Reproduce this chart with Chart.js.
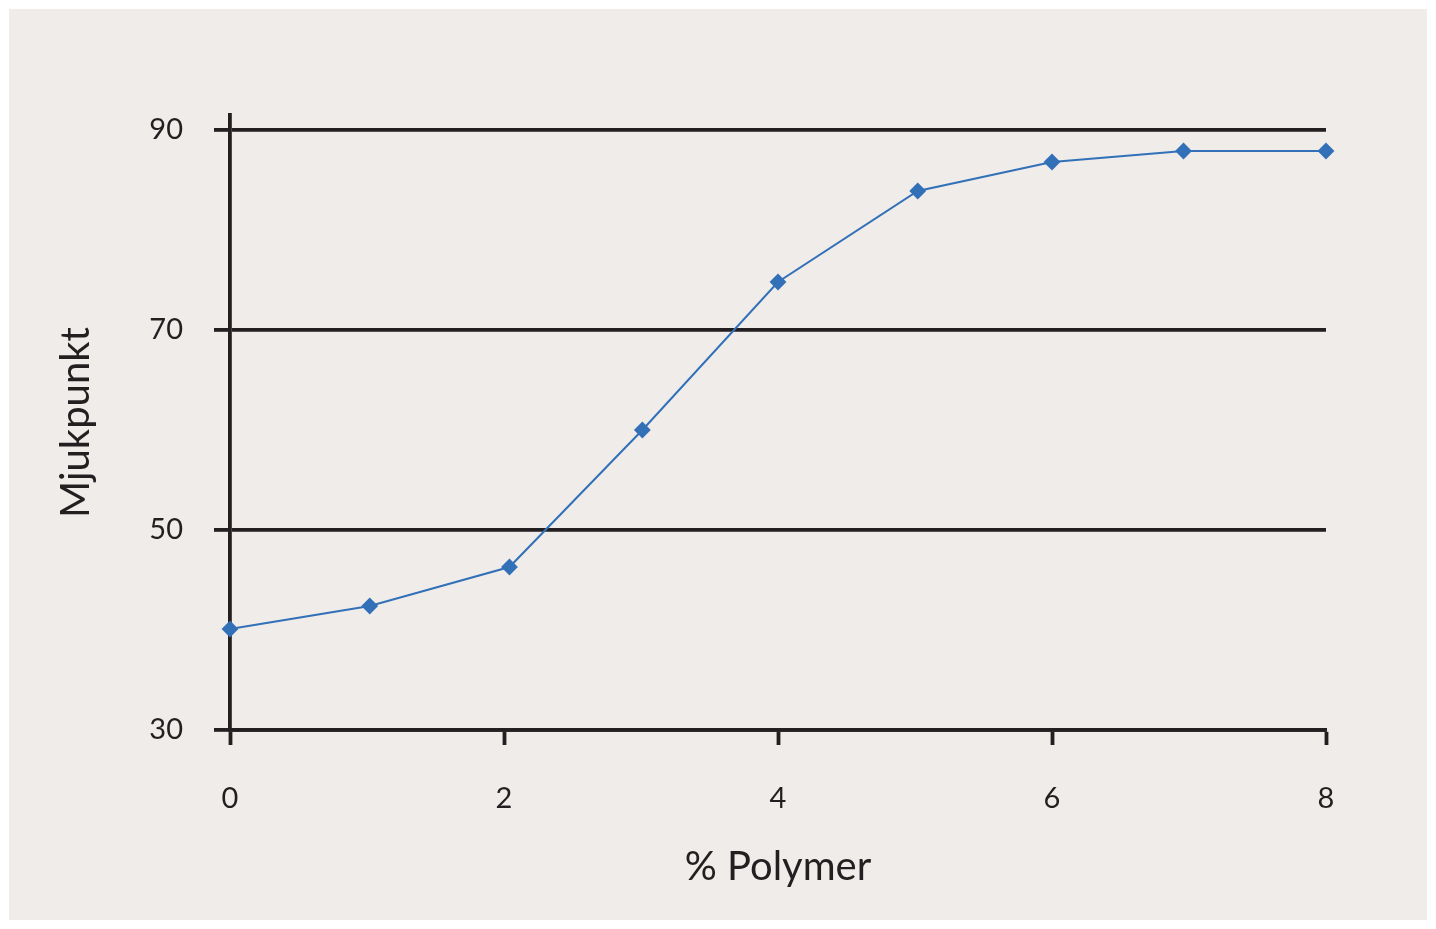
<!DOCTYPE html>
<html>
<head>
<meta charset="utf-8">
<script src="https://cdn.jsdelivr.net/npm/chart.js@4"></script>
<style>
  html, body { margin: 0; padding: 0; background: #ffffff; }
  #panel { position: absolute; left: 9px; top: 9px; width: 1418px; height: 911px; background: #efecea; }
  #wrap { position: absolute; left: 0; top: 0; width: 1436px; height: 929px; }
</style>
</head>
<body>
<div id="panel"></div>
<div id="wrap"><canvas id="c" width="1436" height="929"></canvas></div>
<script>
const polymerPct = [0, 1.02, 2.04, 3.01, 4, 5.02, 6, 6.96, 8];
const softeningPoint = [40.1, 42.4, 46.3, 60.0, 74.8, 83.9, 86.8, 87.9, 87.9];
const xTicks = [0, 2, 4, 6, 8];
const yTicks = [30, 50, 70, 90];
const xTitle = '% Polymer';
const yTitle = 'Mjukpunkt';

const ink = '#231f20';
const fontFam = 'Lato, "Open Sans", sans-serif';

const points = polymerPct.map((x, i) => ({ x: x, y: softeningPoint[i] }));

new Chart(document.getElementById('c'), {
  type: 'line',
  data: {
    datasets: [{
      data: points,
      borderColor: '#3270b8',
      backgroundColor: '#3270b8',
      borderWidth: 2,
      pointStyle: 'rectRot',
      pointRadius: 7,
      pointHoverRadius: 7,
      tension: 0,
      clip: false
    }]
  },
  options: {
    responsive: false,
    animation: false,
    layout: { padding: { left: 0, top: 115, right: 110, bottom: 38 } },
    plugins: { legend: { display: false }, tooltip: { enabled: false } },
    scales: {
      x: {
        type: 'linear',
        min: 0, max: 8,
        afterBuildTicks: s => { s.ticks = xTicks.map(v => ({ value: v })); },
        afterFit: s => { s.height = 161; },
        grid: { drawOnChartArea: false, drawTicks: true, tickLength: 15, tickWidth: 3.8, tickColor: ink },
        border: { display: true, color: ink, width: 3.8 },
        ticks: { color: ink, font: { family: fontFam, size: 29 }, padding: 36, maxRotation: 0 },
        title: { display: true, text: xTitle, color: ink, font: { family: fontFam, size: 40 }, padding: { top: 6, bottom: 0 } }
      },
      y: {
        type: 'linear',
        min: 30, max: 91.5,
        afterBuildTicks: s => { s.ticks = yTicks.map(v => ({ value: v })); },
        afterFit: s => { s.width = 230; },
        grid: { drawOnChartArea: true, drawTicks: true, tickLength: 16, lineWidth: 3.8, color: ink, tickColor: ink, tickWidth: 3.8 },
        border: { display: true, color: ink, width: 3.8 },
        ticks: { color: ink, font: { family: fontFam, size: 29 }, padding: 31 },
        title: { display: true, text: yTitle, color: ink, font: { family: fontFam, size: 40 }, padding: { top: 52, bottom: 0 } }
      }
    }
  }
});
</script>
</body>
</html>
